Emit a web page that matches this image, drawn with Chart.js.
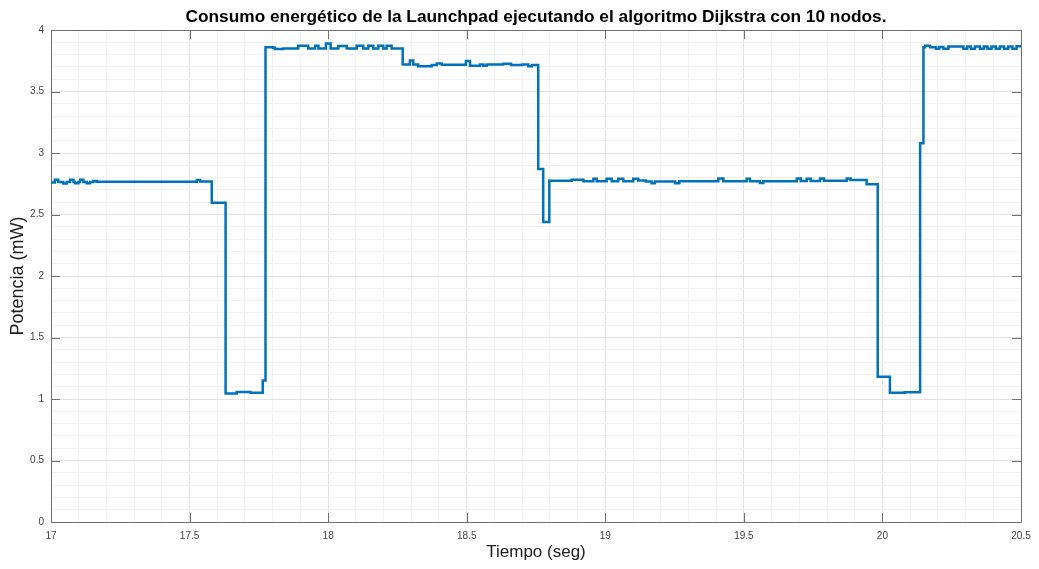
<!DOCTYPE html>
<html>
<head>
<meta charset="utf-8">
<script src="https://cdn.jsdelivr.net/npm/chart.js@4.4.1/dist/chart.umd.min.js"></script>
<style>
  html, body { margin: 0; padding: 0; background: #ffffff; }
  #wrap { width: 1039px; height: 569px; }
</style>
</head>
<body>
<div id="wrap"><canvas id="grafica" width="1039" height="569"></canvas></div>
<script>
// Potencia medida (mW) en cada instante de cambio (s); cada valor se mantiene hasta el siguiente instante
const tiempo = [
  17.000, 17.014, 17.026, 17.044, 17.057, 17.069, 17.081, 17.087, 17.099, 17.105, 17.117, 17.129, 17.141, 17.153, 17.165,
  17.526, 17.538, 17.580, 17.630, 17.670, 17.720, 17.764, 17.774,
  17.802, 17.808, 17.838, 17.892, 17.928, 17.953, 17.965, 17.992, 18.009, 18.037, 18.067, 18.103, 18.127, 18.145,
  18.163, 18.181, 18.199, 18.211, 18.229, 18.269,
  18.295, 18.307, 18.325, 18.374, 18.392, 18.410, 18.497, 18.512, 18.548, 18.560, 18.572, 18.632, 18.660, 18.700,
  18.722, 18.735, 18.758, 18.776, 18.798,
  18.879, 18.921, 18.957, 18.969, 19.005, 19.023, 19.047, 19.065, 19.101, 19.119, 19.146, 19.167, 19.179, 19.252,
  19.267, 19.408, 19.426, 19.510, 19.522, 19.558, 19.570, 19.691, 19.705, 19.727, 19.741, 19.775, 19.789, 19.871,
  19.885, 19.943, 19.983, 20.027, 20.080, 20.136, 20.148,
  20.154, 20.172, 20.193, 20.205, 20.220, 20.238, 20.292, 20.306, 20.319, 20.334, 20.352, 20.366, 20.379, 20.394,
  20.409, 20.424, 20.439, 20.454, 20.469, 20.484, 20.500
];
const potencia = [
  2.760, 2.782, 2.765, 2.752, 2.765, 2.782, 2.765, 2.755, 2.765, 2.782, 2.765, 2.755, 2.765, 2.772, 2.766,
  2.780, 2.768, 2.595, 1.045, 1.056, 1.050, 1.150, 3.860,
  3.855, 3.845, 3.850, 3.872, 3.850, 3.872, 3.850, 3.890, 3.850, 3.870, 3.850, 3.872, 3.850, 3.872,
  3.850, 3.872, 3.850, 3.872, 3.850, 3.720,
  3.752, 3.720, 3.705, 3.715, 3.728, 3.718, 3.748, 3.710, 3.720, 3.710, 3.720, 3.725, 3.715, 3.720,
  3.705, 3.715, 2.870, 2.440, 2.775,
  2.783, 2.770, 2.790, 2.770, 2.790, 2.770, 2.790, 2.770, 2.790, 2.776, 2.768, 2.754, 2.768, 2.754,
  2.770, 2.792, 2.770, 2.790, 2.770, 2.756, 2.770, 2.792, 2.772, 2.790, 2.772, 2.792, 2.775, 2.792,
  2.780, 2.745, 1.180, 1.050, 1.055, 3.080, 3.860,
  3.872, 3.860, 3.847, 3.862, 3.847, 3.865, 3.847, 3.865, 3.847, 3.865, 3.847, 3.865, 3.847, 3.865,
  3.847, 3.865, 3.847, 3.865, 3.847, 3.868, 3.868
];

// Marcas principales de los ejes
const xTicks = [17, 17.5, 18, 18.5, 19, 19.5, 20, 20.5];
const yTicks = [0, 0.5, 1, 1.5, 2, 2.5, 3, 3.5, 4];

const titulo = 'Consumo energético de la Launchpad ejecutando el algoritmo Dijkstra con 10 nodos.';

const esMarca = (lista, v) => lista.some(t => Math.abs(t - v) < 1e-6);

// Caja de los ejes con marcas hacia dentro en los cuatro lados
const cajaEjes = {
  id: 'cajaEjes',
  beforeDatasetsDraw(chart) {
    const { ctx, chartArea: a, scales: { x, y } } = chart;
    const L = 9;
    ctx.save();
    ctx.strokeStyle = '#707070';
    ctx.lineWidth = 1;
    ctx.beginPath();
    ctx.rect(Math.round(a.left) + 0.5, Math.round(a.top) + 0.5,
             Math.round(a.right) - Math.round(a.left), Math.round(a.bottom) - Math.round(a.top));
    xTicks.forEach(v => {
      const px = Math.round(x.getPixelForValue(v)) + 0.5;
      ctx.moveTo(px, a.bottom); ctx.lineTo(px, a.bottom - L);
      ctx.moveTo(px, a.top); ctx.lineTo(px, a.top + L);
    });
    yTicks.forEach(v => {
      const py = Math.round(y.getPixelForValue(v)) + 0.5;
      ctx.moveTo(a.left, py); ctx.lineTo(a.left + L, py);
      ctx.moveTo(a.right, py); ctx.lineTo(a.right - L, py);
    });
    ctx.stroke();
    ctx.restore();
  },
  // Título centrado sobre el área de trazado
  afterDraw(chart) {
    const { ctx, chartArea: a } = chart;
    ctx.save();
    ctx.fillStyle = '#000000';
    ctx.font = 'bold 17.3px "Liberation Sans", Arial, sans-serif';
    ctx.textAlign = 'center';
    ctx.textBaseline = 'middle';
    ctx.fillText(titulo, (a.left + a.right) / 2, 17);
    ctx.restore();
  }
};

const colorRejilla = (lista) => (c) => esMarca(lista, c.tick.value) ? '#e2e2e2' : '#f1f1f1';

new Chart(document.getElementById('grafica'), {
  type: 'line',
  data: {
    datasets: [{
      data: tiempo.map((t, i) => ({ x: t, y: potencia[i] })),
      borderColor: '#0072BD',
      borderWidth: 2.5,
      pointRadius: 0,
      stepped: true,
      fill: false,
      tension: 0
    }]
  },
  options: {
    responsive: false,
    animation: false,
    layout: { padding: { left: 0, right: 18, top: 30, bottom: 0 } },
    plugins: {
      legend: { display: false },
      tooltip: { enabled: false },
      title: { display: false }
    },
    scales: {
      x: {
        type: 'linear',
        min: 17, max: 20.5,
        afterFit: (s) => { s.height = 47; },
        border: { display: false },
        grid: { color: colorRejilla(xTicks), drawTicks: false, lineWidth: 1 },
        ticks: {
          stepSize: 0.1,
          autoSkip: false,
          maxRotation: 0,
          padding: 8,
          color: '#404040',
          font: { family: '"Liberation Sans", Arial, sans-serif', size: 10 },
          callback: (v) => esMarca(xTicks, v) ? String(Math.round(v * 10) / 10) : ''
        },
        title: {
          display: true,
          text: 'Tiempo (seg)',
          color: '#202020',
          font: { family: '"Liberation Sans", Arial, sans-serif', size: 17 },
          padding: { top: 4, bottom: 6 }
        }
      },
      y: {
        type: 'linear',
        min: 0, max: 4,
        afterFit: (s) => { s.width = 51; },
        border: { display: false },
        grid: { color: colorRejilla(yTicks), drawTicks: false, lineWidth: 1 },
        ticks: {
          stepSize: 0.1,
          autoSkip: false,
          padding: 7,
          color: '#404040',
          font: { family: '"Liberation Sans", Arial, sans-serif', size: 10 },
          callback: (v) => esMarca(yTicks, v) ? String(Math.round(v * 10) / 10) : ''
        },
        title: {
          display: true,
          text: 'Potencia (mW)',
          color: '#202020',
          font: { family: '"Liberation Sans", Arial, sans-serif', size: 18 },
          padding: { top: 7, bottom: 0 }
        }
      }
    }
  },
  plugins: [cajaEjes]
});
</script>
</body>
</html>
